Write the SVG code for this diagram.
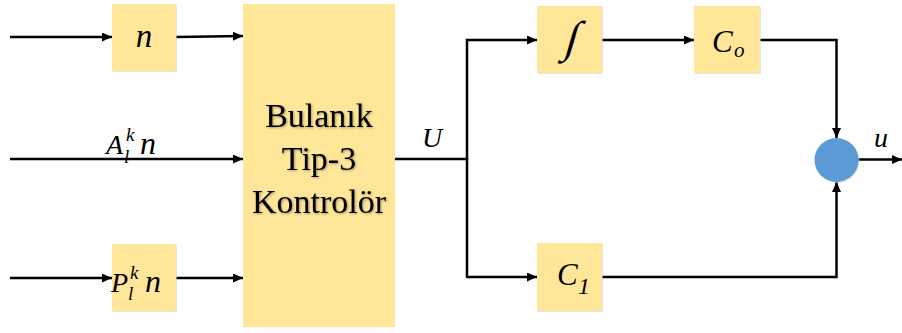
<svg xmlns="http://www.w3.org/2000/svg" width="902" height="333" viewBox="0 0 902 333">
<style>
.box{fill:#FFE699;}
.shd{fill:#C9D3E0;opacity:0.6;}
.ln{fill:none;stroke:#000;stroke-width:2.5;}
.arr{marker-end:url(#ah);}
.t{font-family:"Liberation Serif","Times New Roman",serif;fill:#000;}
.i{font-style:italic;}
.big{font-size:34px;text-anchor:middle;}
</style>
<defs>
<marker id="ah" markerUnits="userSpaceOnUse" markerWidth="11" markerHeight="10" refX="10" refY="4.5" orient="auto">
<path d="M0,0 L10,4.5 L0,9 z" fill="#000"/>
</marker>
<filter id="ts" x="-10%" y="-10%" width="120%" height="130%">
<feDropShadow dx="1" dy="1" stdDeviation="0.8" flood-color="#000" flood-opacity="0.35"/>
</filter>
</defs>

<g id="connectors">
<path class="ln arr" d="M10,37 L112,37"/>
<path class="ln arr" d="M176,37 L243,36"/>
<path class="ln arr" d="M10,159 L243,159"/>
<path class="ln arr" d="M10,278 L112,278"/>
<path class="ln arr" d="M176,278 L243,278"/>
<path class="ln" d="M395,159 L467,159"/>
<path class="ln arr" d="M467,160 L467,40 L537,40"/>
<path class="ln arr" d="M467,158 L467,277 L537,277"/>
<path class="ln arr" d="M602,40 L694,40"/>
<path class="ln arr" d="M760,40 L836.5,40 L836.5,138"/>
<path class="ln arr" d="M602,277 L836.5,277 L836.5,182"/>
<path class="ln arr" d="M858,159.5 L902,159.5"/>
</g>

<g id="node-n">
<rect class="shd" x="113" y="5" width="64" height="67"/>
<rect class="box" x="112" y="4" width="64" height="67"/>
<text class="t i" x="144" y="47" font-size="33" text-anchor="middle">n</text>
</g>

<g id="label-A">
<text class="t i" x="106" y="154" font-size="28">A</text>
<text class="t i" x="126" y="141" font-size="19">k</text>
<text class="t i" x="124" y="163" font-size="19">l</text>
<text class="t i" x="140" y="154" font-size="32">n</text>
</g>

<g id="node-P">
<rect class="shd" x="113" y="245" width="64" height="67"/>
<rect class="box" x="112" y="244" width="64" height="67"/>
<text class="t i" x="111" y="292" font-size="28">P</text>
<text class="t i" x="130" y="279" font-size="19">k</text>
<text class="t i" x="128" y="300" font-size="19">l</text>
<text class="t i" x="145" y="292" font-size="32">n</text>
</g>

<g id="node-controller">
<rect class="box" x="243" y="4" width="152" height="323"/>
<g filter="url(#ts)">
<text class="t big" x="319" y="127">Bulanık</text>
<text class="t big" x="319" y="170">Tip-3</text>
<text class="t big" x="319" y="213">Kontrolör</text>
</g>
</g>

<g id="label-U">
<text class="t i" x="422" y="147" font-size="28">U</text>
</g>

<g id="node-integral">
<rect class="shd" x="538" y="7" width="65" height="67"/>
<rect class="box" x="537" y="6" width="65" height="67"/>
<text class="t" transform="translate(569,52) skewX(-16)" x="0" y="0" font-size="44" text-anchor="middle">∫</text>
</g>

<g id="node-Co">
<rect class="shd" x="695" y="7" width="66" height="67"/>
<rect class="box" x="694" y="6" width="66" height="67"/>
<text class="t i" x="712" y="52" font-size="31">C</text>
<text class="t i" x="734" y="57" font-size="21">o</text>
</g>

<g id="node-C1">
<rect class="shd" x="538" y="244" width="65" height="68"/>
<rect class="box" x="537" y="243" width="65" height="68"/>
<text class="t i" x="557" y="285" font-size="31">C</text>
<text class="t i" x="578" y="294" font-size="24">1</text>
</g>

<g id="node-sum">
<circle cx="837.5" cy="161" r="22" fill="#C9D3E0" opacity="0.6"/>
<circle cx="836.5" cy="160" r="22" fill="#5B9BD5"/>
</g>

<g id="label-u">
<text class="t i" x="874" y="147" font-size="28">u</text>
</g>
</svg>
